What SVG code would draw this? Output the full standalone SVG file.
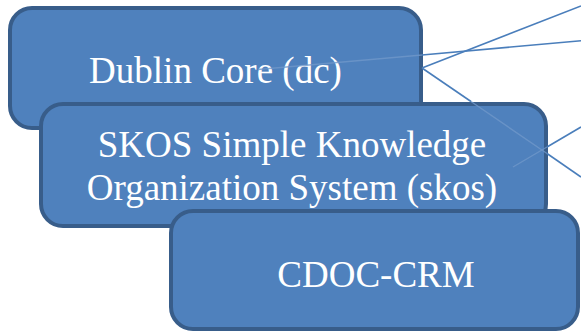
<svg xmlns="http://www.w3.org/2000/svg" width="581" height="332" viewBox="0 0 581 332">
<style>
.box{fill:#4F81BD;stroke:#385D8A;stroke-width:4}
.lbl{font-family:"Liberation Serif","Times New Roman",serif;font-size:37px;fill:#FFFFFF;text-anchor:middle}
.ln{stroke:#4A7EBB;stroke-width:1.6;fill:none}
.faint{stroke:#6F97C9;stroke-width:1.4;fill:none;opacity:0.8}
</style>
<rect width="581" height="332" fill="#FFFFFF"/>
<g id="node-dc">
<rect class="box" x="10" y="8" width="411" height="120" rx="22"/>
<text class="lbl" x="215.5" y="83">Dublin Core (dc)</text>
</g>
<g id="node-skos">
<rect class="box" x="41" y="104" width="505" height="122" rx="22"/>
<text class="lbl" x="292" y="157">SKOS Simple Knowledge</text>
<text class="lbl" x="292" y="200">Organization System (skos)</text>
</g>
<g id="node-cdoc">
<rect class="box" x="171" y="211" width="407" height="118" rx="22"/>
<text class="lbl" x="376" y="287">CDOC-CRM</text>
</g>
<g id="connectors">
<line class="faint" x1="258" y1="69.5" x2="422" y2="55"/>
<line class="faint" x1="471" y1="101.5" x2="547" y2="153.5"/>
<line class="faint" x1="513" y1="167" x2="547" y2="147"/>
<line class="ln" x1="422" y1="68" x2="581" y2="6"/>
<line class="ln" x1="422" y1="55" x2="581" y2="40.7"/>
<line class="ln" x1="422" y1="68" x2="471" y2="101.5"/>
<line class="ln" x1="547" y1="153.5" x2="581" y2="177"/>
<line class="ln" x1="547" y1="147" x2="581" y2="127"/>
</g>
</svg>
